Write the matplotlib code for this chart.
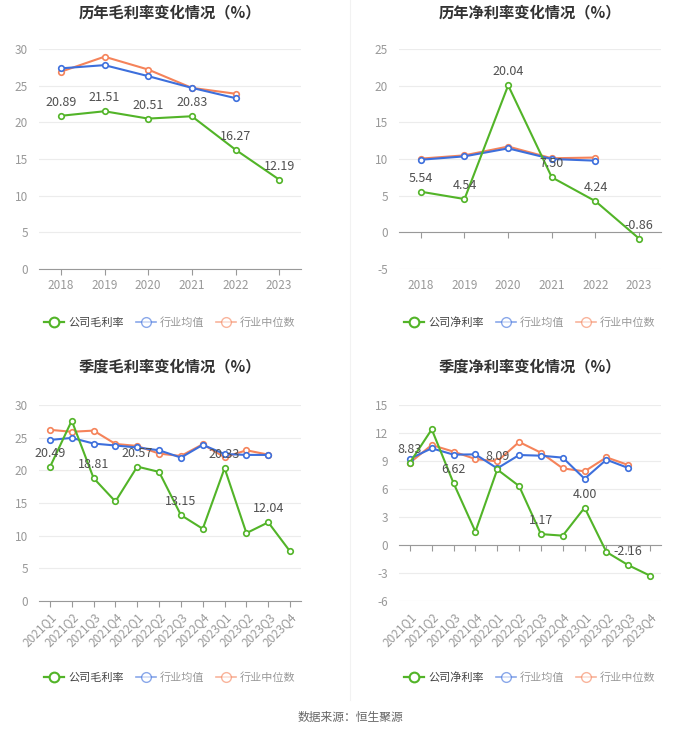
import numpy as np
import matplotlib
matplotlib.use('Agg')
import matplotlib.pyplot as plt
from matplotlib.lines import Line2D

plt.rcParams['font.family'] = ['Noto Sans CJK SC', 'DejaVu Sans']

# annual data
years = ['2018', '2019', '2020', '2021', '2022', '2023']
gross_company = [20.89, 21.51, 20.51, 20.83, 16.27, 12.19]
gross_mean = [27.36, 27.8, 26.3, 24.7, 23.3]
gross_median = [26.9, 28.95, 27.2, 24.7, 23.9]

net_company = [5.54, 4.54, 20.04, 7.50, 4.24, -0.86]
net_mean = [9.9, 10.36, 11.45, 10.0, 9.77]
net_median = [10.05, 10.5, 11.7, 10.1, 10.2]

# quarterly data
quarters = ['2021Q1', '2021Q2', '2021Q3', '2021Q4', '2022Q1', '2022Q2',
            '2022Q3', '2022Q4', '2023Q1', '2023Q2', '2023Q3', '2023Q4']
q_gross_company = [20.49, 27.6, 18.81, 15.23, 20.57, 19.76, 13.15, 11.05, 20.33, 10.39, 12.04, 7.59]
q_gross_mean = [24.65, 24.96, 24.1, 23.8, 23.5, 23.07, 21.95, 23.9, 22.5, 22.36, 22.36]
q_gross_median = [26.2, 25.9, 26.08, 24.04, 23.73, 22.56, 22.2, 23.99, 22.0, 23.07, 22.4]

q_net_company = [8.83, 12.39, 6.62, 1.43, 8.09, 6.32, 1.17, 1.0, 4.00, -0.75, -2.16, -3.29]
q_net_mean = [9.25, 10.36, 9.68, 9.71, 8.21, 9.64, 9.57, 9.36, 7.1, 9.14, 8.25]
q_net_median = [8.82, 10.71, 10.0, 9.21, 8.96, 11.04, 9.89, 8.21, 7.89, 9.39, 8.57]

GREEN = '#52b428'
BLUE = '#3d6fdc'
ORANGE = '#f5835a'

W, H = 700, 733
fig = plt.figure(figsize=(W / 100, H / 100), dpi=100)


def make_ax(x0, y_top, x1, y_bot):
    return fig.add_axes([x0 / W, 1 - y_bot / H, (x1 - x0) / W, (y_bot - y_top) / H])


def draw(ax, cats, comp, mean, med, yticks, title, comp_name, label_idx, rotate, title_y, legend_y):
    x = np.arange(len(cats))
    for vals, c, z in [(med, ORANGE, 2), (mean, BLUE, 3), (comp, GREEN, 4)]:
        ax.plot(x[:len(vals)], vals, color=c, lw=1.5, marker='o', ms=4,
                mfc='white', mec=c, mew=1.2, zorder=z)
    for i in label_idx:
        ax.annotate(f'{comp[i]:.2f}', (x[i], comp[i]), xytext=(0, 5),
                    textcoords='offset points', ha='center', va='bottom',
                    fontsize=9, color='#505050', zorder=5)
    ax.set_xlim(-0.5, len(cats) - 0.5)
    ax.set_ylim(yticks[0], yticks[-1])
    ax.set_yticks(yticks)
    ax.set_yticklabels([str(v) for v in yticks])
    ax.grid(axis='y', color='#ececec', lw=0.8)
    ax.set_axisbelow(True)
    for s in ['top', 'right', 'left']:
        ax.spines[s].set_visible(False)
    ax.spines['bottom'].set_position(('data', 0))
    ax.spines['bottom'].set_color('#999999')
    ax.tick_params(axis='y', length=0, labelsize=8.5, labelcolor='#999999', pad=8)
    ax.set_xticks(x)
    ax.tick_params(axis='x', length=4, color='#999999', labelbottom=False)
    sec = ax.secondary_xaxis('bottom')
    sec.set_xticks(x)
    if rotate:
        sec.set_xticklabels(cats, rotation=45, ha='right', rotation_mode='anchor')
    else:
        sec.set_xticklabels(cats)
    sec.tick_params(length=0, labelsize=8.5, labelcolor='#999999', pad=7)
    sec.spines['bottom'].set_visible(False)

    pos = ax.get_position()
    cx = pos.x0 + pos.width / 2
    fig.text(cx, 1 - title_y / H, title, ha='center', va='center',
             fontsize=11, fontweight='bold', color='#333333')

    handles = [Line2D([], [], color=GREEN, lw=1.6, marker='o', ms=7, mfc='white', mec=GREEN, mew=1.5),
               Line2D([], [], color=BLUE, lw=1.2, marker='o', ms=7, mfc='white', mec=BLUE, mew=1.0, alpha=0.6),
               Line2D([], [], color=ORANGE, lw=1.2, marker='o', ms=7, mfc='white', mec=ORANGE, mew=1.0, alpha=0.6)]
    leg = fig.legend(handles, [comp_name, '行业均值', '行业中位数'], loc='center',
                     bbox_to_anchor=(cx, 1 - legend_y / H), ncol=3,
                     frameon=False, fontsize=8, handlelength=1.8, handletextpad=0.4,
                     columnspacing=1.0)
    for i, txt in enumerate(leg.get_texts()):
        txt.set_color('#444444' if i == 0 else '#999999')


ax1 = make_ax(39, 49, 301, 269)
draw(ax1, years, gross_company, gross_mean, gross_median, [0, 5, 10, 15, 20, 25, 30],
     '历年毛利率变化情况（%）', '公司毛利率', range(6), False, 12, 323)

ax2 = make_ax(399, 49, 661, 269)
draw(ax2, years, net_company, net_mean, net_median, [-5, 0, 5, 10, 15, 20, 25],
     '历年净利率变化情况（%）', '公司净利率', range(6), False, 12, 323)

ax3 = make_ax(39, 405, 301, 601)
draw(ax3, quarters, q_gross_company, q_gross_mean, q_gross_median, [0, 5, 10, 15, 20, 25, 30],
     '季度毛利率变化情况（%）', '公司毛利率', range(0, 12, 2), True, 366, 678)

ax4 = make_ax(399, 405, 661, 601)
draw(ax4, quarters, q_net_company, q_net_mean, q_net_median, [-6, -3, 0, 3, 6, 9, 12, 15],
     '季度净利率变化情况（%）', '公司净利率', range(0, 12, 2), True, 366, 678)

# divider
fig.add_artist(Line2D([0.5, 0.5], [1 - 700 / H, 1.0], transform=fig.transFigure,
                      color='#f2f2f2', lw=0.8))

fig.text(0.5, 1 - 717 / H, '数据来源：恒生聚源', ha='center', va='center',
         fontsize=8.5, color='#666666')

fig.savefig('out.png', dpi=100, facecolor='white')
